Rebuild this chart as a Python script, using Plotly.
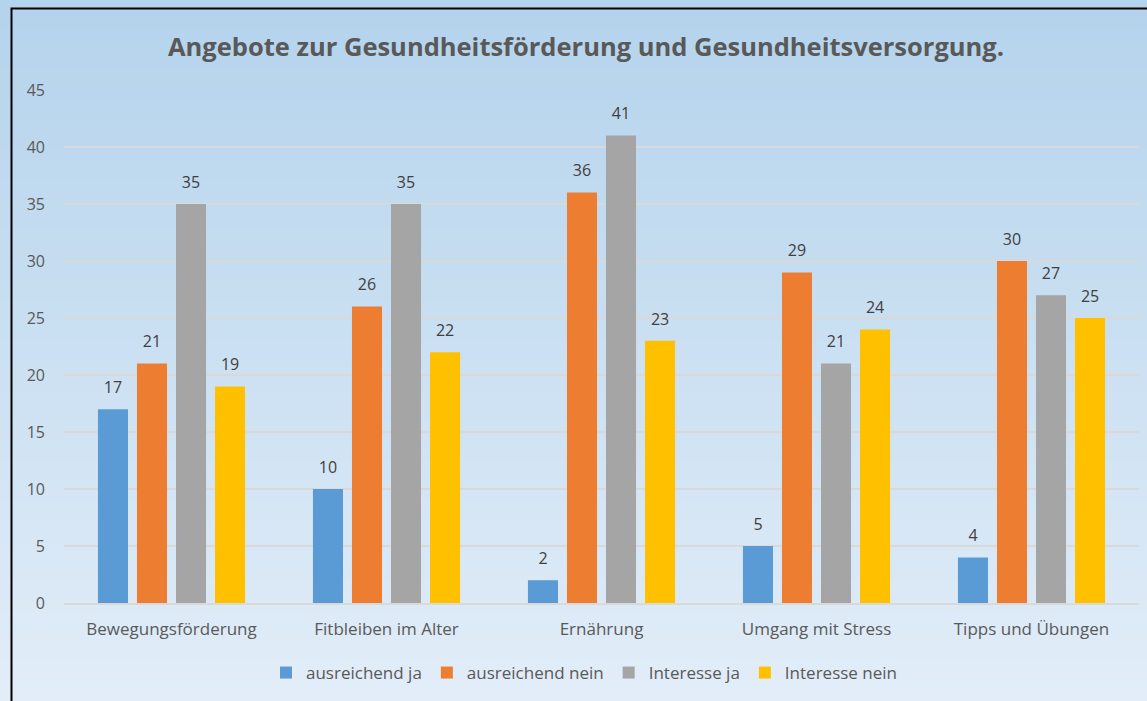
import plotly.graph_objects as go

categories = ["Bewegungsförderung", "Fitbleiben im Alter", "Ernährung", "Umgang mit Stress", "Tipps und Übungen"]
series_names = ["ausreichend ja", "ausreichend nein", "Interesse ja", "Interesse nein"]
ausreichend_ja = [17, 10, 2, 5, 4]
ausreichend_nein = [21, 26, 36, 29, 30]
interesse_ja = [35, 35, 41, 21, 27]
interesse_nein = [19, 22, 23, 24, 25]
colors = ["#5b9bd5", "#ed7d31", "#a5a5a5", "#ffc000"]
title_text = "Angebote zur Gesundheitsförderung und Gesundheitsversorgung."

W, H = 1147, 701
ml, mr, mt, mb = 64, 8, 90, 98
pw, ph = W - ml - mr, H - mt - mb

def px(x):
    return (x - ml) / pw

def py(y):
    return (H - mb - y) / ph

fig = go.Figure()
font_family = "Open Sans, Noto Sans, sans-serif"
series_vals = [ausreichend_ja, ausreichend_nein, interesse_ja, interesse_nein]
for i, (name, vals, c) in enumerate(zip(series_names, series_vals, colors)):
    fig.add_trace(go.Bar(
        x=categories, y=vals, name=name, offsetgroup=str(i),
        marker=dict(color=c, line=dict(width=0)),
        hoverinfo="skip",
    ))
for i, (name, vals) in enumerate(zip(series_names, series_vals)):
    fig.add_trace(go.Scatter(
        x=categories, y=vals, name=name, offsetgroup=str(i), showlegend=False,
        mode="markers+text", marker=dict(size=18, color="rgba(0,0,0,0)"),
        text=[str(v) for v in vals], textposition="top center",
        textfont=dict(size=16, color="#404040", family=font_family),
        cliponaxis=False, hoverinfo="skip",
    ))

# gradient background bands
shapes = []
top = (180, 211, 236)
bot = (226, 237, 248)
n = 70
for i in range(n):
    t = i / (n - 1)
    col = tuple(round(top[k] + (bot[k] - top[k]) * t) for k in range(3))
    y0 = H * i / n
    y1 = H * (i + 1) / n + 1
    shapes.append(dict(type="rect", xref="paper", yref="paper",
                       x0=px(0), x1=px(W), y0=py(y1), y1=py(y0),
                       fillcolor="rgb(%d,%d,%d)" % col, line=dict(width=0), layer="below"))
# border frame
shapes.append(dict(type="rect", xref="paper", yref="paper",
                   x0=px(11.5), x1=px(W + 20), y0=py(H + 20), y1=py(8.5),
                   fillcolor="rgba(0,0,0,0)", line=dict(color="#000000", width=2), layer="above"))

fig.update_layout(
    width=W, height=H,
    margin=dict(l=ml, r=mr, t=mt, b=mb, pad=0),
    paper_bgcolor="rgba(0,0,0,0)",
    plot_bgcolor="rgba(0,0,0,0)",
    shapes=shapes,
    barmode="group", bargap=0.274, bargroupgap=0.23,
    scattermode="group", scattergap=0.274,
    title=dict(text="<b>" + title_text + "</b>", x=586 / W, xref="container", xanchor="center",
               y=1 - 47 / H, yref="container", yanchor="middle",
               font=dict(size=25.5, color="#595959", family=font_family)),
    font=dict(family=font_family, color="#595959"),
    legend=dict(orientation="h", x=584 / W, xanchor="center", xref="container",
                y=1 - 673 / H, yref="container", yanchor="middle",
                font=dict(size=17, color="#595959"), itemwidth=30,
                bgcolor="rgba(0,0,0,0)", tracegroupgap=0),
    showlegend=True,
)
fig.update_yaxes(range=[0, 45], dtick=5, showgrid=True, gridcolor="#d9d9d9", gridwidth=1.5,
                 zeroline=False, showline=False, ticks="", ticklabelstandoff=18,
                 tickfont=dict(size=16, color="#595959"))
fig.update_xaxes(showline=True, linecolor="#d9d9d9", linewidth=2, ticks="",
                 tickfont=dict(size=17, color="#595959"), ticklabelstandoff=10)

fig.write_html("out.html", config={"displayModeBar": False},
               post_script="document.body.style.margin='0';document.body.style.padding='0';")
